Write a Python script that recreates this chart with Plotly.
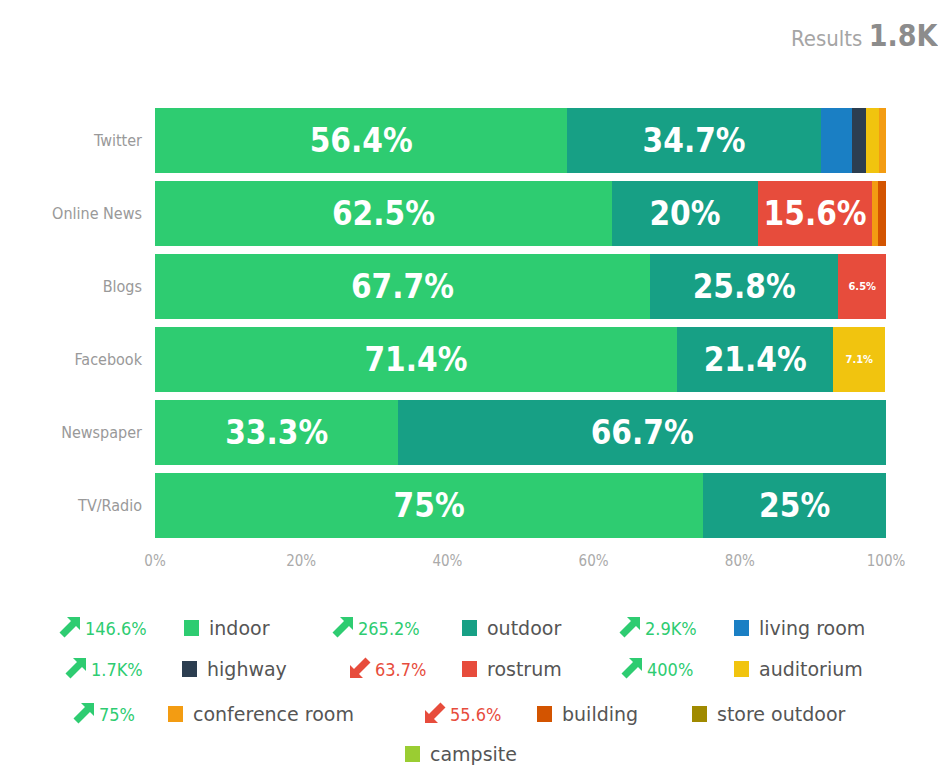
import plotly.graph_objects as go

categories = ["Twitter", "Online News", "Blogs", "Facebook", "Newspaper", "TV/Radio"]
series_names = ["indoor", "outdoor", "living room", "highway", "rostrum", "auditorium",
                "conference room", "building", "store outdoor", "campsite"]
indoor = [56.4, 62.5, 67.7, 71.4, 33.3, 75]
outdoor = [34.7, 20, 25.8, 21.4, 66.7, 25]
living_room = [4.2, 0, 0, 0, 0, 0]
highway = [1.9, 0, 0, 0, 0, 0]
rostrum = [0, 15.6, 6.5, 0, 0, 0]
auditorium = [1.9, 0, 0, 7.1, 0, 0]
conference_room = [0.9, 0.8, 0, 0, 0, 0]
building = [0, 1.1, 0, 0, 0, 0]
store_outdoor = [0, 0, 0, 0, 0, 0]
campsite = [0, 0, 0, 0, 0, 0]
series_values = [indoor, outdoor, living_room, highway, rostrum, auditorium,
                 conference_room, building, store_outdoor, campsite]
colors = ["#2ecc71", "#17a085", "#1a7fc4", "#2c3e50", "#e74c3c", "#f1c40f",
          "#f39c12", "#d35400", "#a08a00", "#9acd32"]
changes = ["146.6%", "265.2%", "2.9K%", "1.7K%", "63.7%", "400%", "75%", "55.6%", "", ""]
change_up = [True, True, True, True, False, True, True, False, None, None]
x_ticks = [0, 20, 40, 60, 80, 100]
x_tick_labels = ["0%", "20%", "40%", "60%", "80%", "100%"]

# page body has an 8px margin; work in page pixels and convert
OFF = 8
W, H = 946 - 2 * OFF, 774 - 2 * OFF
PL, PR, PT, PB = 155, 886, 104, 542   # plot area in page pixels
L, T = PL - OFF, PT - OFF
R, B = W - (PR - OFF), H - (PB - OFF)
PW, PH = PR - PL, PB - PT

def px(x):
    return (x - PL) / PW

def py(y):
    return (PB - y) / PH

BIG = "DejaVu Sans Condensed, sans-serif"

fig = go.Figure()
for name, vals, col in zip(series_names, series_values, colors):
    texts, sizes = [], []
    for v in vals:
        if v >= 10:
            texts.append(f"{v:g}%")
            sizes.append(33)
        elif v >= 5:
            texts.append(f"{v:g}%")
            sizes.append(11)
        else:
            texts.append("")
            sizes.append(10)
    fig.add_trace(go.Bar(
        y=categories, x=vals, name=name, orientation="h",
        marker=dict(color=col, line=dict(width=0)),
        text=texts, textposition="inside", insidetextanchor="middle",
        textfont=dict(color="white", size=sizes, family=BIG, weight="bold"),
        showlegend=False, hoverinfo="x+name",
    ))

fig.update_layout(
    barmode="stack", bargap=0.11,
    width=W, height=H,
    margin=dict(l=L, r=R, t=T, b=B, autoexpand=False),
    paper_bgcolor="white", plot_bgcolor="white",
    font=dict(family=BIG, color="#999999"),
    xaxis=dict(range=[0, 100], tickvals=x_ticks, ticktext=x_tick_labels,
               showgrid=False, zeroline=False, tickfont=dict(size=15, color="#aaaaaa"),
               ticks="", ticklen=0, ticklabelstandoff=8),
    yaxis=dict(autorange="reversed", showgrid=False, tickfont=dict(size=16, color="#999999"),
               ticks="", ticklabelstandoff=12),
)

# Title
fig.add_annotation(x=px(940), y=py(35), xref="paper", yref="paper", xanchor="right", yanchor="middle",
                   text="<span style='font-size:22px;color:#a5a5a5'>Results </span>"
                        "<span style='font-size:30px;color:#8c8c8c'><b>1.8K</b></span>",
                   showarrow=False, font=dict(family=BIG))

# thick arrow icon (local 20x20 pixel box, y down)
ARROW = [(7, 0), (20, 0), (20, 13), (16, 9), (4.5, 20.5), (-0.5, 15.5), (11, 4)]

def arrow_path(x0, y0, up):
    pts = ARROW if up else [(20 - a, 20 - b) for a, b in ARROW]
    segs = [f"{px(x0 + a):.5f},{py(y0 + b):.5f}" for a, b in pts]
    return "M " + " L ".join(segs) + " Z"

# Custom legend: (change_x, swatch_x, row_y) in page pixels
legend_pos = [
    (60, 184, 628), (333, 462, 628), (620, 734, 628),
    (66, 182, 669), (350, 462, 669), (622, 734, 669),
    (74, 168, 714), (425, 537, 714), (None, 692, 714),
    (None, 405, 754),
]
for i, (cx, sx, ry) in enumerate(legend_pos):
    if cx is not None and changes[i]:
        up = change_up[i]
        ccol = "#2ecc71" if up else "#e74c3c"
        fig.add_shape(type="path", xref="paper", yref="paper",
                      path=arrow_path(cx, ry - 11, up),
                      fillcolor=ccol, line=dict(width=0))
        fig.add_annotation(x=px(cx + 23), y=py(ry), xref="paper", yref="paper", xanchor="left", yanchor="middle",
                           text=changes[i],
                           showarrow=False, font=dict(size=18, color=ccol, family=BIG))
    fig.add_shape(type="rect", xref="paper", yref="paper",
                  x0=px(sx), x1=px(sx + 15), y0=py(ry - 8), y1=py(ry + 8),
                  fillcolor=colors[i], line=dict(width=0))
    fig.add_annotation(x=px(sx + 23), y=py(ry), xref="paper", yref="paper", xanchor="left", yanchor="middle",
                       text=series_names[i], showarrow=False,
                       font=dict(size=19, color="#555555", family="DejaVu Sans, sans-serif"))

fig.write_html("out.html")
